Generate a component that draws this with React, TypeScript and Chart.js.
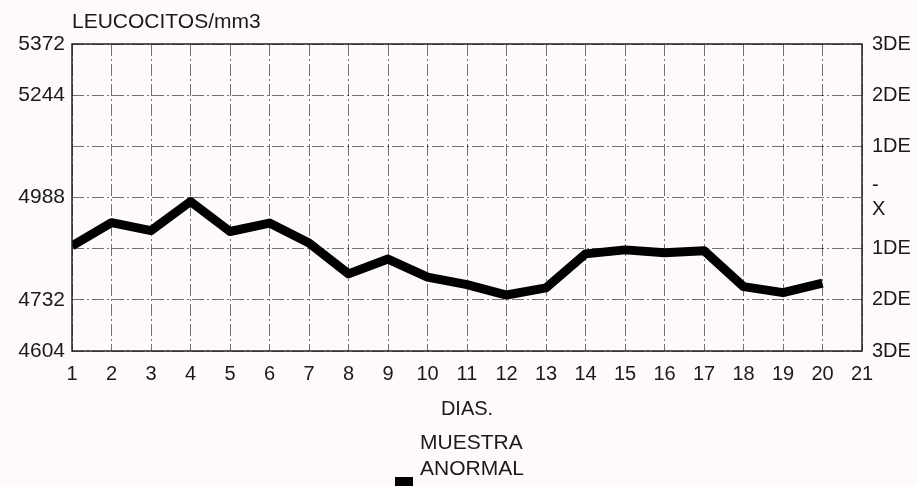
import React, { useEffect, useRef } from "react";
import { Chart, registerables } from "chart.js";

Chart.register(...registerables);

const DAYS = [1, 2, 3, 4, 5, 6, 7, 8, 9, 10, 11, 12, 13, 14, 15, 16, 17, 18, 19, 20];
const LEUCOCITOS = [4867, 4925, 4905, 4978, 4903, 4924, 4874, 4797, 4834, 4789, 4770, 4744, 4762, 4847, 4857, 4850, 4855, 4765, 4750, 4774];
const Y_MIN = 4604;
const Y_MAX = 5372;
const Y_STEP = 128;
const LEFT_TICK_LABELS = ["4604", "4732", "", "4988", "", "5244", "5372"];
const RIGHT_TICK_LABELS: (string | string[])[] = ["3DE", "2DE", "1DE", ["-", "X"], "1DE", "2DE", "3DE"];
const X_MIN = 1;
const X_MAX = 21;
const Y_TITLE = "LEUCOCITOS/mm3";
const X_TITLE = "DIAS.";
const SERIES_LABEL = ["MUESTRA", "ANORMAL"];

const FONT = "'Liberation Sans', Arial, sans-serif";
const TEXT = "#1a1a1a";
const GRID = "rgba(0,0,0,0.55)";

export default function App() {
  const ref = useRef<HTMLCanvasElement | null>(null);

  useEffect(() => {
    if (!ref.current) return;
    const framePlugin = {
      id: "frame",
      afterDraw(chart: any) {
        const { ctx, chartArea } = chart;
        ctx.save();
        ctx.strokeStyle = "#222";
        ctx.lineWidth = 1.5;
        ctx.strokeRect(chartArea.left, chartArea.top, chartArea.right - chartArea.left, chartArea.bottom - chartArea.top);
        ctx.fillStyle = TEXT;
        ctx.font = `21px ${FONT}`;
        ctx.textAlign = "left";
        ctx.textBaseline = "alphabetic";
        ctx.fillText(Y_TITLE, chartArea.left, chartArea.top - 16);
        ctx.restore();
      },
    };
    const chart = new Chart(ref.current, {
      type: "line",
      data: {
        datasets: [
          {
            label: SERIES_LABEL.join(" "),
            data: DAYS.map((d, i) => ({ x: d, y: LEUCOCITOS[i] })),
            borderColor: "#000",
            backgroundColor: "#000",
            borderWidth: 9,
            pointRadius: 0,
            tension: 0,
            borderJoinStyle: "round",
          },
        ],
      },
      options: {
        animation: false,
        responsive: false,
        maintainAspectRatio: false,
        layout: { padding: { top: 44, left: 0, right: 0, bottom: 0 } },
        plugins: { legend: { display: false }, tooltip: { enabled: false }, title: { display: false } },
        scales: {
          x: {
            type: "linear",
            min: X_MIN,
            max: X_MAX,
            afterFit: (s: any) => {
              s.height = 135;
            },
            ticks: {
              stepSize: 1,
              color: TEXT,
              font: { family: FONT, size: 20 },
              padding: 11,
            },
            grid: { color: GRID, lineWidth: 1, drawTicks: false },
            border: { display: false, dash: [12, 3, 2, 3] },
            title: {
              display: true,
              text: X_TITLE,
              color: TEXT,
              font: { family: FONT, size: 20 },
              padding: { top: 0, bottom: 65 },
            },
          },
          y: {
            type: "linear",
            position: "left",
            min: Y_MIN,
            max: Y_MAX,
            afterFit: (s: any) => {
              s.width = 72;
            },
            ticks: {
              stepSize: Y_STEP,
              color: TEXT,
              font: { family: FONT, size: 21 },
              padding: 7,
              callback: (_v: any, i: number) => LEFT_TICK_LABELS[i],
            },
            grid: { color: GRID, lineWidth: 1, drawTicks: false },
            border: { display: false, dash: [12, 3, 2, 3] },
          },
          y2: {
            type: "linear",
            position: "right",
            min: Y_MIN,
            max: Y_MAX,
            afterFit: (s: any) => {
              s.width = 55;
            },
            ticks: {
              stepSize: Y_STEP,
              color: TEXT,
              font: { family: FONT, size: 20 },
              padding: 10,
              callback: (_v: any, i: number) => RIGHT_TICK_LABELS[i],
            },
            grid: { display: false, drawTicks: false },
            border: { display: false },
          },
        },
      },
      plugins: [framePlugin],
    } as any);
    return () => chart.destroy();
  }, []);

  return (
    <div style={{ position: "absolute", left: 0, top: 0, width: 917, height: 486, background: "#fdf9fd", overflow: "hidden" }}>
      <canvas ref={ref} width={917} height={486} style={{ display: "block" }} />
      <div
        style={{
          position: "absolute",
          left: 420,
          top: 429,
          fontFamily: FONT,
          fontSize: 21,
          lineHeight: "26px",
          color: TEXT,
        }}
      >
        {SERIES_LABEL.map((t) => (
          <div key={t}>{t}</div>
        ))}
      </div>
      <div style={{ position: "absolute", left: 395, top: 477, width: 18, height: 12, background: "#000" }} />
    </div>
  );
}
